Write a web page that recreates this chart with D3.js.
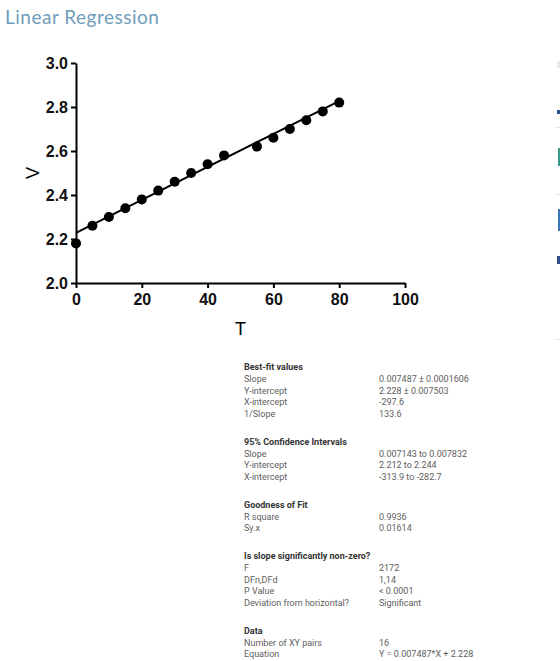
<!DOCTYPE html>
<html>
<head>
<meta charset="utf-8">
<script src="https://cdn.jsdelivr.net/npm/d3@7"></script>
<style>
  body { margin: 0; background: #fff; }
  svg { display: block; }
</style>
</head>
<body>
<script>
const width = 560, height = 661

// measured data points
const tValues = [0, 5, 10, 15, 20, 25, 30, 35, 40, 45, 55, 60, 65, 70, 75, 80]
const vValues = [2.18, 2.26, 2.30, 2.34, 2.38, 2.42, 2.46, 2.50, 2.54, 2.58, 2.62, 2.66, 2.70, 2.74, 2.78, 2.82]

// fitted line from the results table
const fitSlope = 0.007487
const fitIntercept = 2.228
const fitRange = [0, 80]

const xTicks = [0, 20, 40, 60, 80, 100]
const yTicks = [2.0, 2.2, 2.4, 2.6, 2.8, 3.0]

// results table, one list per section
const sectionTitles = ["Best-fit values", "95% Confidence Intervals", "Goodness of Fit", "Is slope significantly non-zero?", "Data"]
const sectionRows = [
	[["Slope", "0.007487 \u00b1 0.0001606"], ["Y-intercept", "2.228 \u00b1 0.007503"], ["X-intercept", "-297.6"], ["1/Slope", "133.6"]],
	[["Slope", "0.007143 to 0.007832"], ["Y-intercept", "2.212 to 2.244"], ["X-intercept", "-313.9 to -282.7"]],
	[["R square", "0.9936"], ["Sy.x", "0.01614"]],
	[["F", "2172"], ["DFn,DFd", "1,14"], ["P Value", "< 0.0001"], ["Deviation from horizontal?", "Significant"]],
	[["Number of XY pairs", "16"], ["Equation", "Y = 0.007487*X + 2.228"]]
]

const svg = d3.select("body").append("svg")
	.attr("width", width)
	.attr("height", height)

svg.append("text")
	.attr("x", 5)
	.attr("y", 24)
	.attr("font-family", "Lato, 'Open Sans', sans-serif")
	.attr("font-size", 19)
	.attr("letter-spacing", 0.5)
	.attr("fill", "#6f9dbb")
	.text("Linear Regression")

const x = d3.scaleLinear().domain([0, 100]).range([76, 405])
const y = d3.scaleLinear().domain([2.0, 3.0]).range([283, 63])

const axisFont = "'Liberation Sans', Arial, sans-serif"

const yAxis = svg.append("g")
	.attr("transform", `translate(${x(0)},0)`)
	.call(d3.axisLeft(y).tickValues(yTicks).tickFormat(d3.format(".1f")).tickSize(5).tickSizeOuter(0).tickPadding(3))

const xAxis = svg.append("g")
	.attr("transform", `translate(0,${y(2.0)})`)
	.call(d3.axisBottom(x).tickValues(xTicks).tickSize(5).tickSizeOuter(0).tickPadding(6))

;[xAxis, yAxis].forEach(g => {
	g.select(".domain").attr("stroke", "#000").attr("stroke-width", 2)
	g.selectAll(".tick line").attr("stroke", "#000").attr("stroke-width", 2)
	g.selectAll(".tick text")
		.attr("fill", "#111")
		.attr("font-family", axisFont)
		.attr("font-weight", "bold")
		.attr("font-size", 16)
})

svg.append("text")
	.attr("x", x(50))
	.attr("y", 335)
	.attr("text-anchor", "middle")
	.attr("font-family", axisFont)
	.attr("font-size", 18)
	.text("T")

svg.append("text")
	.attr("transform", `translate(39,${y(2.5)}) rotate(-90)`)
	.attr("text-anchor", "middle")
	.attr("font-family", axisFont)
	.attr("font-size", 18)
	.text("V")

const line = d3.line()
	.x(d => x(d))
	.y(d => y(fitSlope * d + fitIntercept))

svg.append("path")
	.attr("d", line(fitRange))
	.attr("fill", "none")
	.attr("stroke", "#000")
	.attr("stroke-width", 2)

svg.append("g")
	.selectAll("circle")
	.data(tValues)
	.join("circle")
	.attr("cx", d => x(d))
	.attr("cy", (d, i) => y(vValues[i]))
	.attr("r", 5)
	.attr("fill", "#000")

// results table
const table = svg.append("g")
	.attr("font-family", "Roboto, sans-serif")
	.attr("font-size", 9)

const rowH = 11.8
let rowY = 370
sectionTitles.forEach((title, s) => {
	table.append("text")
		.attr("x", 244)
		.attr("y", rowY)
		.attr("font-weight", "bold")
		.attr("fill", "#333")
		.text(title)
	sectionRows[s].forEach(r => {
		rowY += rowH
		table.append("text").attr("x", 244).attr("y", rowY).attr("fill", "#5e5e5e").text(r[0])
		table.append("text").attr("x", 379).attr("y", rowY).attr("fill", "#5e5e5e").text(r[1])
	})
	rowY += 27.6
})

// cut-off panel edge on the right
const edge = svg.append("g")
edge.append("rect").attr("x", 557).attr("y", 61).attr("width", 3).attr("height", 7).attr("fill", "#e6e8ea")
edge.append("rect").attr("x", 557).attr("y", 110).attr("width", 3).attr("height", 4).attr("fill", "#2f4e8c")
edge.append("rect").attr("x", 555).attr("y", 127).attr("width", 5).attr("height", 1).attr("fill", "#e2e2e2")
edge.append("rect").attr("x", 558).attr("y", 148).attr("width", 2).attr("height", 18).attr("fill", "#3a9a8a")
edge.append("rect").attr("x", 555).attr("y", 194).attr("width", 5).attr("height", 1).attr("fill", "#e2e2e2")
edge.append("rect").attr("x", 558).attr("y", 209).attr("width", 2).attr("height", 22).attr("fill", "#3b78b4")
edge.append("rect").attr("x", 557).attr("y", 256).attr("width", 3).attr("height", 8).attr("fill", "#2f4e8c")
edge.append("rect").attr("x", 555).attr("y", 339).attr("width", 5).attr("height", 1).attr("fill", "#e2e2e2")
</script>
</body>
</html>
